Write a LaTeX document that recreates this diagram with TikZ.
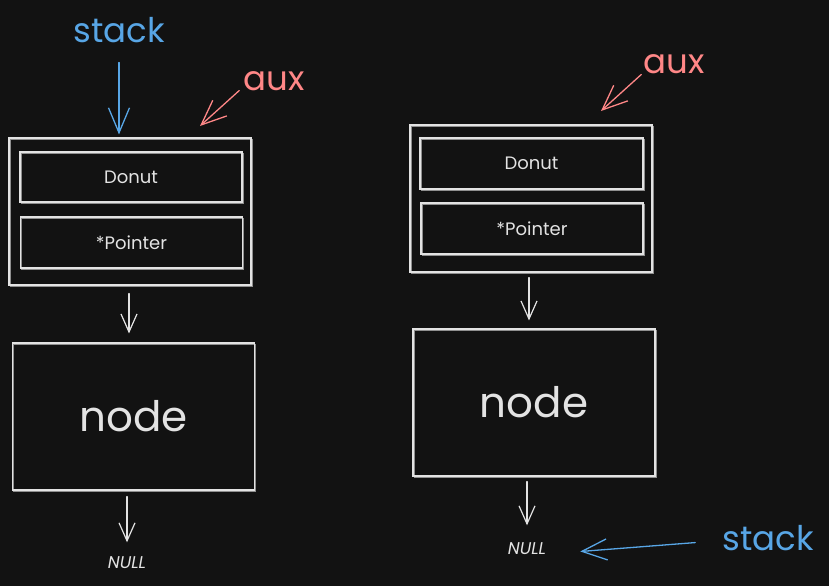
\documentclass[tikz,border=0pt]{standalone}
\usepackage{fontspec}
\setmainfont{Poppins}
\usetikzlibrary{arrows.meta}
\definecolor{bg}{HTML}{121212}
\definecolor{fg}{HTML}{E3E3E3}
\definecolor{sblue}{HTML}{58A6E6}
\definecolor{sred}{HTML}{FF8787}
\begin{document}
\begin{tikzpicture}[x=1pt,y=-1pt,
  sketch/.style={draw=fg, line width=1.1pt, rectangle, inner sep=0pt, text=fg,
     postaction={draw=fg, line width=0.6pt, opacity=0.6, transform canvas={shift={(0.9pt,-0.8pt)}}}},
  bigbox/.style={sketch, minimum width=242pt, minimum height=147pt, font=\fontsize{42}{44}\selectfont},
  fieldbox/.style={sketch, minimum width=222pt, minimum height=50pt, font=\fontsize{18}{20}\selectfont},
  handlabel/.style={inner sep=0pt, anchor=base, font=\fontsize{34}{36}\selectfont},
  nulltext/.style={inner sep=0pt, text=fg, font=\itshape\fontsize{17}{19}\selectfont},
  arr/.style={draw=fg, line width=1.2pt, line cap=round, -{Straight Barb[length=18pt,width=16pt,line width=1.2pt]}},
  bigarr/.style={line width=1.3pt, line cap=round, -{Straight Barb[length=25pt,width=21pt,line width=1.3pt]}}
]
\useasboundingbox (0,0) rectangle (829,586);
\fill[bg] (0,0) rectangle (829,586);

% left group
\node[bigbox, minimum height=147pt] (outerL) at (130,211.5) {};
\node[fieldbox] (donutL) at (131,177) {Donut};
\node[fieldbox, minimum height=51pt] (ptrL) at (131.5,242.5) {*Pointer};
\node[bigbox] (nodeL) at (133.5,416.5) {node};
\node[nulltext] (nullL) at (127,562.5) {NULL};
\node[handlabel, text=sblue] (stackL) at (119,43) {stack};
\node[handlabel, text=sred] (auxL) at (274,90) {aux};
\coordinate (auxLtip) at (200,126);

\draw[bigarr, draw=sblue, shorten <=19pt, shorten >=3pt] (stackL.south) -- (stackL.south |- outerL.north);
\draw[bigarr, draw=sred] ([xshift=-4pt]auxL.south west) -- (auxLtip);
\draw[arr, shorten <=8pt, shorten >=9pt] ([xshift=-1pt]outerL.south) -- ([xshift=-1pt]outerL.south |- nodeL.north);
\draw[arr, shorten <=6pt, shorten >=14pt] (nodeL.south -| nullL.north) -- (nullL.north);

% right group
\node[bigbox] (outerR) at (531,198.5) {};
\node[fieldbox, minimum height=51pt, minimum width=223pt] (donutR) at (531.5,163.5) {Donut};
\node[fieldbox, minimum height=51pt] (ptrR) at (532,228.5) {*Pointer};
\node[bigbox] (nodeR) at (534,402.5) {node};
\node[nulltext] (nullR) at (527,548.5) {NULL};
\node[handlabel, text=sred] (auxR) at (674,74) {aux};
\node[handlabel, text=sblue] (stackR) at (768,550) {stack};
\coordinate (auxRtip) at (601,111);

\draw[bigarr, draw=sred] ([xshift=-2pt]auxR.south west) -- (auxRtip);
\draw[arr, shorten <=5pt, shorten >=8pt] ([xshift=-2pt]outerR.south) -- ([xshift=-2pt]outerR.south |- nodeR.north);
\draw[arr, shorten <=5pt, shorten >=17pt] (nodeR.south -| nullR.north) -- (nullR.north);
\draw[bigarr, draw=sblue] ([xshift=-27pt,yshift=-5pt]stackR.west) -- ([xshift=34pt,yshift=-3pt]nullR.east);
\end{tikzpicture}
\end{document}
